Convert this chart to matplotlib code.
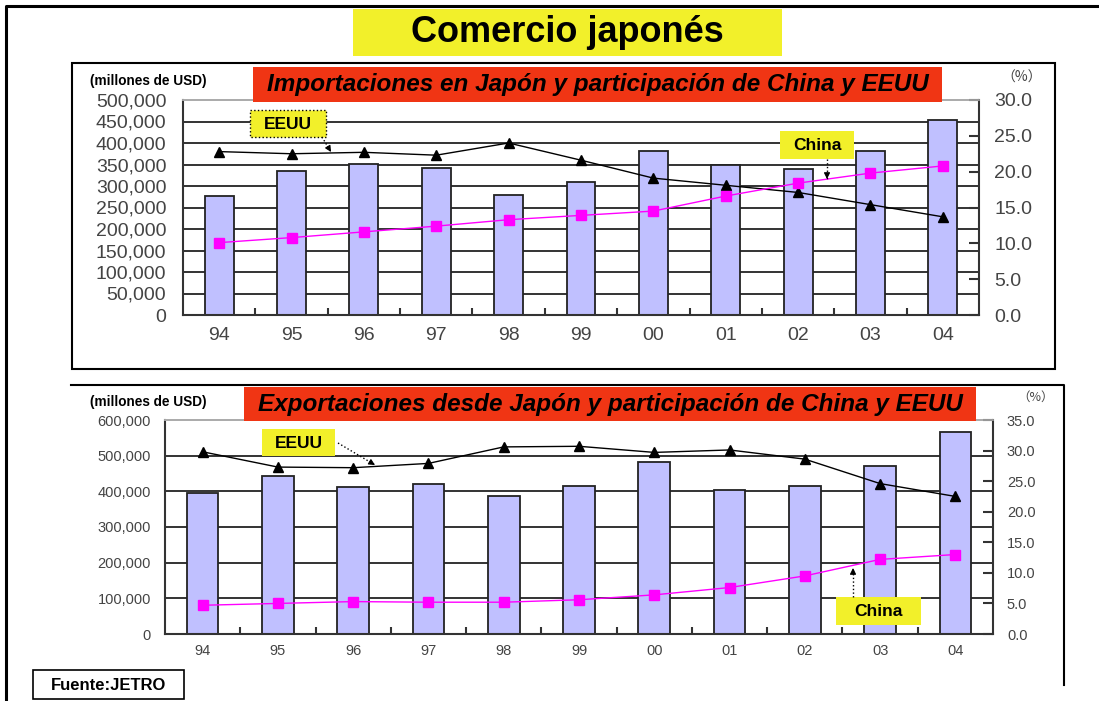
# coding=utf8
import numpy as np
import matplotlib
matplotlib.use('Agg')
import matplotlib.pyplot as plt
from matplotlib.patches import Rectangle

plt.rcParams['font.family'] = ['Liberation Sans', 'DejaVu Sans']

# datos (millones de USD y %)
years = ['94', '95', '96', '97', '98', '99', '00', '01', '02', '03', '04']
imp_total = [276000, 336000, 351000, 341000, 279000, 310000, 382000, 350000, 339000, 382000, 453000]
imp_eeuu = [22.8, 22.5, 22.7, 22.3, 24.0, 21.6, 19.1, 18.1, 17.1, 15.4, 13.7]
imp_china = [10.1, 10.8, 11.6, 12.4, 13.3, 13.9, 14.5, 16.6, 18.4, 19.8, 20.8]
exp_total = [395000, 443000, 413000, 421000, 386000, 416000, 483000, 405000, 416000, 470000, 566000]
exp_eeuu = [29.8, 27.3, 27.2, 27.9, 30.6, 30.7, 29.7, 30.1, 28.6, 24.6, 22.5]
exp_china = [4.7, 5.0, 5.3, 5.2, 5.2, 5.6, 6.4, 7.6, 9.5, 12.2, 13.0]

W, H = 1099, 701
fig = plt.figure(figsize=(W / 100, H / 100), dpi=100)
fig.patch.set_facecolor('white')


def px_box(x0, y0, x1, y1):
    '''caja en pixeles -> coordenadas de figura'''
    return [x0 / W, 1 - y1 / H, (x1 - x0) / W, (y1 - y0) / H]


def draw_chart(box, total, eeuu, china, ymax, ystep, pmax, fs, lpad, rpad, xpad, bw):
    x = np.arange(len(years))
    ax = fig.add_axes(px_box(*box))
    ax.bar(x, total, width=bw, color='#C0C0FF', edgecolor='#222222', linewidth=1.3, zorder=2)
    ax.set_xlim(-0.5, len(years) - 0.5)
    ax.set_ylim(0, ymax)
    ax.set_yticks(np.arange(0, ymax + 1, ystep))
    ax.set_yticklabels(['{:,}'.format(v) for v in np.arange(0, ymax + 1, ystep)])
    ax.set_axisbelow(True)
    ax.yaxis.grid(True, color='#333333', linewidth=1.4)
    ax.get_ygridlines()[-1].set_visible(False)
    ax.set_xticks(x)
    ax.set_xticklabels(years)
    ax.set_xticks(x[:-1] + 0.5, minor=True)
    ax.tick_params(axis='x', which='major', length=0, pad=xpad, labelsize=fs, labelcolor='#444444')
    ax.tick_params(axis='x', which='minor', direction='in', length=5, width=1.5, color='#333333')
    ax.tick_params(axis='y', length=0, pad=lpad, labelsize=fs, labelcolor='#444444')
    for s in ['left', 'bottom']:
        ax.spines[s].set_color('#333333')
        ax.spines[s].set_linewidth(1.5)
    ax.spines['top'].set_color('#aaaaaa')
    ax.spines['top'].set_linewidth(1.2)
    ax.spines['right'].set_visible(False)

    ax2 = ax.twinx()
    ax2.plot(x, eeuu, color='black', linewidth=1.0, marker='^', markersize=7.5, zorder=3)
    ax2.plot(x, china, color='#FF00FF', linewidth=1.0, marker='s', markersize=6.5,
             markeredgecolor='#FF00FF', zorder=3)
    ax2.set_ylim(0, pmax)
    ax2.set_yticks(np.arange(0, pmax + 0.1, 5))
    ax2.set_yticklabels(['%.1f' % v for v in np.arange(0, pmax + 0.1, 5)])
    ax2.tick_params(axis='y', direction='in', length=7, width=1.5, color='#333333',
                    pad=rpad, labelsize=fs, labelcolor='#444444')
    for s in ['left', 'bottom']:
        ax2.spines[s].set_visible(False)
    ax2.spines['top'].set_color('#aaaaaa')
    ax2.spines['top'].set_linewidth(1.2)
    ax2.spines['right'].set_color('#333333')
    ax2.spines['right'].set_linewidth(1.5)
    return ax, ax2


# grafico superior: importaciones
draw_chart((183, 100, 979, 315), imp_total, imp_eeuu, imp_china,
           500000, 50000, 30, 14, 12, 11, 9, 0.4)
# grafico inferior: exportaciones
draw_chart((165, 420, 993, 634), exp_total, exp_eeuu, exp_china,
           600000, 100000, 35, 10.5, 10, 10, 7, 0.42)

# capa de anotaciones en pixeles
ov = fig.add_axes([0, 0, 1, 1])
ov.set_xlim(0, W)
ov.set_ylim(H, 0)
ov.axis('off')
ov.patch.set_alpha(0)

# marco exterior
ov.plot([6, 6, W], [H, 6, 6], color='black', linewidth=2.2)
# marco grafico superior
ov.add_patch(Rectangle((72, 63), 1055 - 72, 369 - 63, fill=False, edgecolor='black', linewidth=1.5))
# marco grafico inferior
ov.plot([71, 1064, 1064], [385, 385, 685], color='black', linewidth=1.5)

# titulo
ov.add_patch(Rectangle((353, 9), 782 - 353, 56 - 9, facecolor='#F2F02A', edgecolor='none'))
ov.text((353 + 782) / 2, 33, 'Comercio japonés', fontsize=26, fontweight='bold',
        ha='center', va='center')

# banners rojos
ov.add_patch(Rectangle((253, 67), 942 - 253, 102 - 67, facecolor='#F03514', edgecolor='none'))
ov.text((253 + 942) / 2, 85, 'Importaciones en Japón y participación de China y EEUU',
        fontsize=17.5, fontweight='bold', fontstyle='italic', ha='center', va='center')
ov.add_patch(Rectangle((244, 387), 976 - 244, 421 - 387, facecolor='#F03514', edgecolor='none'))
ov.text((244 + 976) / 2, 405, 'Exportaciones desde Japón y participación de China y EEUU',
        fontsize=17.5, fontweight='bold', fontstyle='italic', ha='center', va='center')

# unidades
ov.text(90, 81, '(millones de USD)', fontsize=9.8, fontweight='bold', ha='left', va='center')
ov.text(90, 402, '(millones de USD)', fontsize=9.8, fontweight='bold', ha='left', va='center')
ov.text(1022, 78, '（%）', fontsize=10, color='#444444', ha='center', va='center',
        family=['Noto Sans CJK JP', 'DejaVu Sans'])
ov.text(1036, 397, '（%）', fontsize=9, color='#444444', ha='center', va='center',
        family=['Noto Sans CJK JP', 'DejaVu Sans'])


def label_box(x0, y0, x1, y1, txt, dotted=False):
    ov.add_patch(Rectangle((x0, y0), x1 - x0, y1 - y0, facecolor='#F2F02A',
                           edgecolor='black' if dotted else 'none',
                           linestyle=':', linewidth=1.0))
    ov.text((x0 + x1) / 2, (y0 + y1) / 2 + 1, txt, fontsize=12.5, fontweight='bold',
            ha='center', va='center')


def dotted_arrow(x0, y0, x1, y1):
    ov.plot([x0, x1], [y0, y1], color='black', linestyle=':', linewidth=1.0)
    dx, dy = x1 - x0, y1 - y0
    n = np.hypot(dx, dy)
    ov.annotate('', xy=(x1, y1), xytext=(x1 - dx / n * 6, y1 - dy / n * 6),
                arrowprops=dict(arrowstyle='-|>', color='black', lw=0.8,
                                mutation_scale=9, shrinkA=0, shrinkB=0))


label_box(250, 110, 326, 137, 'EEUU', dotted=True)
dotted_arrow(322, 137, 331, 152)
label_box(780, 131, 854, 159, 'China')
dotted_arrow(827, 159, 827, 179)
label_box(262, 429, 335, 456, 'EEUU')
dotted_arrow(338, 443, 375, 465)
label_box(836, 597, 921, 625, 'China')
dotted_arrow(853, 597, 853, 568)

# fuente
ov.add_patch(Rectangle((33, 670), 184 - 33, 699 - 670, facecolor='white',
                       edgecolor='black', linewidth=1.2))
ov.text((33 + 184) / 2, 685, 'Fuente:JETRO', fontsize=12, fontweight='bold',
        ha='center', va='center')

plt.savefig('out.png', dpi=100)
